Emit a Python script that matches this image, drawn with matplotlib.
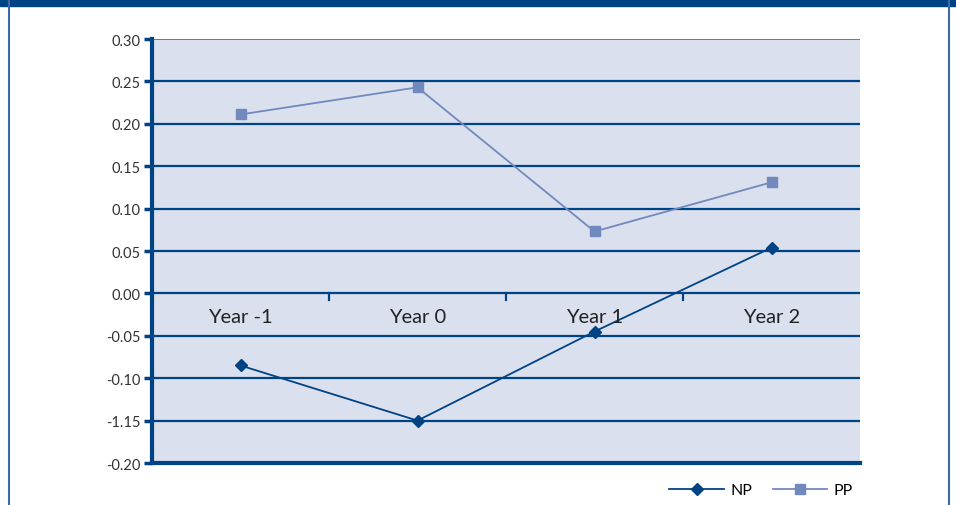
import matplotlib.pyplot as plt
from matplotlib.patches import Rectangle
from matplotlib.lines import Line2D

years = ["Year -1", "Year 0", "Year 1", "Year 2"]
np_vals = [-0.085, -0.150, -0.045, 0.054]
pp_vals = [0.211, 0.243, 0.073, 0.131]
y_ticks = [0.30, 0.25, 0.20, 0.15, 0.10, 0.05, 0.00, -0.05, -0.10, -0.15, -0.20]
y_labels = ["0.30", "0.25", "0.20", "0.15", "0.10", "0.05", "0.00",
            "-0.05", "-0.10", "-1.15", "-0.20"]

navy = "#004385"
light = "#7189bd"
bg = "#dbe0ee"

plt.rcParams['font.family'] = ['Lato', 'DejaVu Sans']

fig = plt.figure(figsize=(9.56, 5.06), dpi=100)

# page frame: heavy top band and thin side rules
fig.add_artist(Rectangle((0, 1 - 7 / 506), 1, 7 / 506, transform=fig.transFigure,
                         color=navy, zorder=0))
fig.add_artist(Line2D([8.5 / 956, 8.5 / 956], [0, 1], transform=fig.transFigure,
                      color="#3a6aa8", lw=1.5))
fig.add_artist(Line2D([948.5 / 956, 948.5 / 956], [0, 1], transform=fig.transFigure,
                      color="#3a6aa8", lw=1.5))

ax = fig.add_axes([152 / 956, 1 - 464 / 506, 708 / 956, 424 / 506])
ax.set_facecolor(bg)
ax.set_xlim(0, 4)
ax.set_ylim(-0.20, 0.30)

for v in y_ticks[1:-1]:
    ax.axhline(v, color=navy, lw=1.6, zorder=1)
ax.axhline(0.30, color="#666666", lw=1.2, zorder=1)

x = [i + 0.5 for i in range(len(years))]
ax.plot(x, pp_vals, color=light, lw=1.3, marker="s", markersize=7, zorder=3)
ax.plot(x, np_vals, color=navy, lw=1.3, marker="D", markersize=6, zorder=3)

# category ticks sit on the zero line
for b in [1, 2, 3]:
    ax.plot([b, b], [0, -0.008], color=navy, lw=1.6, zorder=2)
for xi, lab in zip(x, years):
    ax.text(xi, -0.027, lab, ha="center", va="center", fontsize=14.5, color="#222222")

ax.set_xticks([])
ax.set_yticks(y_ticks)
ax.set_yticklabels(y_labels, fontsize=10.5, color="#333333")
ax.tick_params(axis="y", direction="out", length=6, width=2.5, color=navy, pad=2)

for s in ["top", "right"]:
    ax.spines[s].set_visible(False)
ax.spines["left"].set_color(navy)
ax.spines["left"].set_linewidth(3)
ax.spines["bottom"].set_color(navy)
ax.spines["bottom"].set_linewidth(3)

handles = [Line2D([], [], color=navy, lw=1.3, marker="D", markersize=6),
           Line2D([], [], color=light, lw=1.3, marker="s", markersize=7)]
fig.legend(handles, ["NP", "PP"], loc="center", bbox_to_anchor=(761 / 956, 1 - 491 / 506),
           ncol=2, frameon=False, fontsize=11.5, handlelength=3.4, columnspacing=1.3,
           handletextpad=0.4)

fig.savefig("out.png", dpi=100)
